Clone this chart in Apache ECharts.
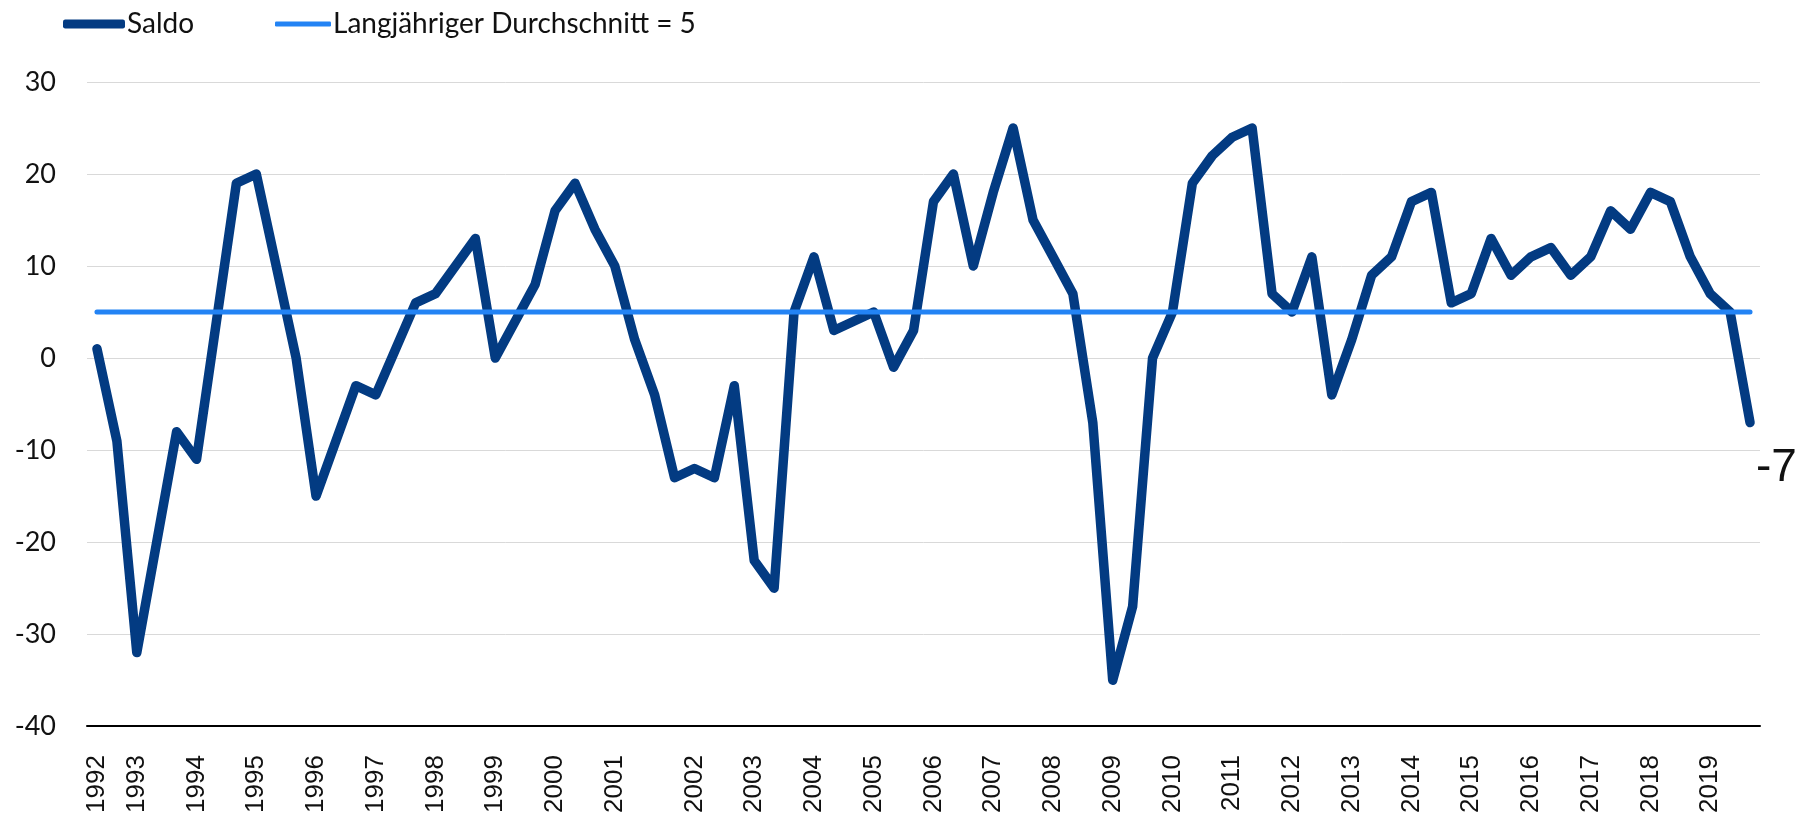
<!DOCTYPE html>
<html>
<head>
<meta charset="utf-8">
<script src="https://cdn.jsdelivr.net/npm/echarts@6/dist/echarts.min.js"></script>
<style>
  html, body { margin: 0; padding: 0; background: #fff; }
  #chart { width: 1801px; height: 816px; }
</style>
</head>
<body>
<div id="chart"></div>
<script>
// Jahre und Anzahl der Umfragen pro Jahr
const years = [1992, 1993, 1994, 1995, 1996, 1997, 1998, 1999, 2000, 2001,
  2002, 2003, 2004, 2005, 2006, 2007, 2008, 2009, 2010, 2011,
  2012, 2013, 2014, 2015, 2016, 2017, 2018, 2019]
const surveysPerYear = [2, 3, 3, 3, 3, 3, 3, 3, 3, 4,
  3, 3, 3, 3, 3, 3, 3, 3, 3, 3,
  3, 3, 3, 3, 3, 3, 3, 3]

// Saldo je Umfrage
const saldo = [
  1, -9,
  -32, -20, -8,
  -11, 4, 19,
  20, 10, 0,
  -15, -9, -3,
  -4, 1, 6,
  7, 10, 13,
  0, 4, 8,
  16, 19, 14,
  10, 2, -4, -13,
  -12, -13, -3,
  -22, -25, 5,
  11, 3, 4,
  5, -1, 3,
  17, 20, 10,
  18, 25, 15,
  11, 7, -7,
  -35, -27, 0,
  5, 19, 22,
  24, 25, 7,
  5, 11, -4,
  2, 9, 11,
  17, 18, 6,
  7, 13, 9,
  11, 12, 9,
  11, 16, 14,
  18, 17, 11,
  7, 5, -7
]
const average = 5

const categories = []
years.forEach((y, i) => {
  for (let k = 1; k <= surveysPerYear[i]; k++) categories.push(y + '/' + k)
})
const averageData = categories.map(() => average)

const chart = echarts.init(document.getElementById('chart'))
const option = {
  animation: false,
  backgroundColor: '#fff',
  textStyle: { fontFamily: 'Lato', color: '#111' },
  legend: [
    {
      data: ['Saldo'],
      left: 58,
      top: 5,
      icon: 'roundRect',
      itemWidth: 62,
      itemHeight: 9,
      textStyle: { fontFamily: 'Lato', fontSize: 28, color: '#111', padding: [0, 0, 0, -3] }
    },
    {
      data: ['Langjähriger Durchschnitt = 5'],
      left: 270,
      top: 5,
      icon: 'roundRect',
      itemWidth: 56,
      itemHeight: 5,
      textStyle: { fontFamily: 'Lato', fontSize: 28, color: '#111', padding: [0, 0, 0, -3] }
    }
  ],
  grid: { left: 87, right: 41, top: 82, bottom: 82 },
  xAxis: {
    type: 'category',
    data: categories,
    boundaryGap: true,
    axisLine: { onZero: false, lineStyle: { color: '#000', width: 2 } },
    axisTick: { show: false },
    axisLabel: {
      interval: 0,
      rotate: 90,
      margin: 29,
      fontFamily: 'Liberation Sans',
      fontSize: 26,
      color: '#111',
      formatter: v => v.endsWith('/1') ? v.split('/')[0] : ''
    }
  },
  yAxis: {
    type: 'value',
    min: -40,
    max: 30,
    interval: 10,
    axisLine: { show: false },
    axisTick: { show: false },
    splitLine: { lineStyle: { color: '#d9d9d9', width: 1 } },
    axisLabel: { fontFamily: 'Lato', fontSize: 27, color: '#111', margin: 31 }
  },
  series: [
    {
      name: 'Saldo',
      type: 'line',
      data: saldo,
      symbol: 'none',
      color: '#033b82',
      lineStyle: { color: '#033b82', width: 9.5, cap: 'round', join: 'round' },
      endLabel: {
        show: true,
        formatter: p => p.value,
        fontFamily: 'Liberation Sans',
        fontSize: 46,
        color: '#111',
        distance: 6,
        offset: [0, 46]
      }
    },
    {
      name: 'Langjähriger Durchschnitt = 5',
      type: 'line',
      data: averageData,
      symbol: 'none',
      color: '#2383f4',
      lineStyle: { color: '#2383f4', width: 5, cap: 'round' }
    }
  ]
}
chart.setOption(option)
</script>
</body>
</html>
